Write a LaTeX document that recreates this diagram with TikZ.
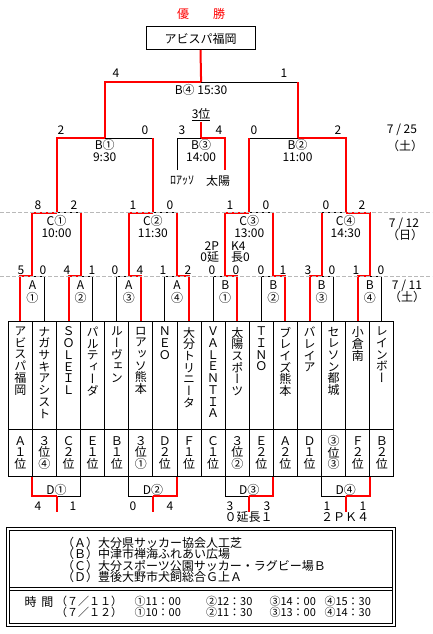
\documentclass[tikz,border=0pt]{standalone}
\usepackage{fontspec}
\setmainfont{Noto Sans CJK JP}
\newfontfamily\vjp[RawFeature=+vert]{Noto Sans CJK JP}
\newcommand\fsz{\fontsize{12}{12}\selectfont}
\begin{document}
\begin{tikzpicture}[x=1pt,y=-1pt,
  every node/.style={inner sep=0pt, outer sep=0pt, font=\fsz},
  win/.style={draw=red, line width=2pt},
  lose/.style={draw=black, line width=1pt},
  cellbox/.style={draw=black, line width=1pt, minimum width=24.1pt},
  vname/.style={anchor=north, align=center, font=\vjp\fontsize{12}{11.7}\selectfont},
  rname/.style={align=center, font=\fontsize{12}{11.5}\selectfont},
  trow/.style={anchor=west, font=\fontsize{11}{11}\selectfont},
  guide/.style={draw=gray!55, line width=0.8pt, dash pattern=on 4pt off 2pt},
  frame/.style={draw=black, line width=1pt}
]
\fill[white] (0,0) rectangle (432,634);
\useasboundingbox (0,0) rectangle (432,634);

% ---------- table of teams ----------
\foreach \i in {0,...,15}{
  \node[cellbox, minimum height=108pt] (n\i) at ({20.35+24.1*\i},375) {};
  \node[cellbox, minimum height=47.7pt] (r\i) at ({20.35+24.1*\i},452.85) {};
}
\node[vname] (t0) at ([yshift=-6pt]n0.north) {ア\\ビ\\ス\\パ\\福\\岡};
\node[vname] (t1) at ([yshift=-6pt]n1.north) {ナ\\ガ\\サ\\キ\\ア\\シ\\ス\\ト};
\node[vname] (t2) at ([yshift=-6pt]n2.north) {Ｓ\\Ｏ\\Ｌ\\Ｅ\\Ｉ\\Ｌ};
\node[vname] (t3n) at ([yshift=-6pt]n3.north) {パ\\ル\\テ\\ィ\\ー\\ダ};
\node[vname] (t4) at ([yshift=-6pt]n4.north) {ル\\ー\\ヴ\\ェ\\ン};
\node[vname] (t5) at ([yshift=-6pt]n5.north) {ロ\\ア\\ッ\\ソ\\熊\\本};
\node[vname] (t6) at ([yshift=-6pt]n6.north) {Ｎ\\Ｅ\\Ｏ};
\node[vname] (t7) at ([yshift=-6pt]n7.north) {大\\分\\ト\\リ\\ニ\\ー\\タ};
\node[vname] (t8) at ([yshift=-6pt]n8.north) {Ｖ\\Ａ\\Ｌ\\Ｅ\\Ｎ\\Ｔ\\Ｉ\\Ａ};
\node[vname] (t9) at ([yshift=-6pt]n9.north) {太\\陽\\ス\\ポ\\ー\\ツ};
\node[vname] (t10) at ([yshift=-6pt]n10.north) {Ｔ\\Ｉ\\Ｎ\\Ｏ};
\node[vname] (t11) at ([yshift=-6pt]n11.north) {ブ\\レ\\イ\\ズ\\熊\\本};
\node[vname] (t12) at ([yshift=-6pt]n12.north) {バ\\レ\\イ\\ア};
\node[vname] (t13) at ([yshift=-6pt]n13.north) {セ\\レ\\ソ\\ン\\都\\城};
\node[vname] (t14) at ([yshift=-6pt]n14.north) {小\\倉\\南};
\node[vname] (t15) at ([yshift=-6pt]n15.north) {レ\\イ\\ン\\ボ\\ー};

\node[rname] (k0) at (r0) {Ａ\\１\\位};
\node[rname] (k1) at (r1) {３\\位\\④};
\node[rname] (k2) at (r2) {Ｃ\\２\\位};
\node[rname] (k3) at (r3) {Ｅ\\１\\位};
\node[rname] (k4) at (r4) {Ｂ\\１\\位};
\node[rname] (k5) at (r5) {３\\位\\①};
\node[rname] (k6) at (r6) {Ｄ\\２\\位};
\node[rname] (k7) at (r7) {Ｆ\\１\\位};
\node[rname] (k8) at (r8) {Ｃ\\１\\位};
\node[rname] (k9) at (r9) {３\\位\\②};
\node[rname] (k10) at (r10) {Ｅ\\２\\位};
\node[rname] (k11) at (r11) {Ａ\\２\\位};
\node[rname] (k12) at (r12) {Ｄ\\１\\位};
\node[rname] (k13) at (r13) {③\\位\\③};
\node[rname] (k14) at (r14) {Ｆ\\２\\位};
\node[rname] (k15) at (r15) {Ｂ\\２\\位};

% ---------- top nodes ----------
\node[text=red] (yusho) at (201,14) {優　　勝};
\node[draw, line width=1pt, minimum width=109pt, minimum height=23pt] (champ) at (200.5,38.5) {アビスパ福岡};
\node (third) at (201.1,113.7) {3位};
\node (ro) at (182,181) {ﾛｱｯｿ};
\node (ta) at (218,181) {太陽};

% ---------- coordinates ----------
\coordinate (a1) at (32.4,276.3);
\coordinate (a2) at (80.6,276.3);
\coordinate (a3) at (128.8,276.3);
\coordinate (a4) at (177,276.3);
\coordinate (a5) at (225.2,276.3);
\coordinate (a6) at (273.4,276.3);
\coordinate (a7) at (321.6,276.3);
\coordinate (a8) at (369.8,276.3);
\coordinate (c1) at (56.5,212.7);
\coordinate (c2) at (152.9,212.7);
\coordinate (c3) at (249.3,212.7);
\coordinate (c4) at (345.7,212.7);
\coordinate (s1) at (104.7,138);
\coordinate (s2) at (297.5,138);
\coordinate (f) at (201.1,82);
\coordinate (q3) at (201.1,138);
\coordinate (l3a) at (177,170);
\coordinate (l3b) at (225.2,170);
\coordinate (d1) at (56.5,496);
\coordinate (d2) at (152.9,496);
\coordinate (d3) at (249.3,496);
\coordinate (d4) at (345.7,496);
\coordinate (e1) at (56.5,511.7);
\coordinate (e2) at (152.9,511.7);
\coordinate (e3) at (249.3,511.7);
\coordinate (e4) at (345.7,511.7);

% ---------- first round (A / B boxes) ----------
\draw[lose] (a1) -| (n1.north);  \draw[win] (n0.north) |- (a1);
\draw[lose] (a2) -| (n3.north);  \draw[win] (n2.north) |- (a2);
\draw[lose] (n4.north) |- (a3);  \draw[win] (a3) -| (n5.north);
\draw[lose] (n6.north) |- (a4);  \draw[win] (a4) -| (n7.north);
\draw[lose] (n8.north) |- (a5);  \draw[win] (a5) -| (n9.north);
\draw[lose] (n10.north) |- (a6); \draw[win] (a6) -| (n11.north);
\draw[lose] (a7) -| (n13.north); \draw[win] (n12.north) |- (a7);
\draw[lose] (a8) -| (n15.north); \draw[win] (n14.north) |- (a8);

% ---------- C round ----------
\draw[lose] (a2|-c1) -- (c1); \draw[win] (a2) -- (a2|-c1); \draw[win] (a1) |- (c1);
\draw[lose] (a4|-c2) -- (c2); \draw[win] (a4) -- (a4|-c2); \draw[win] (a3) |- (c2);
\draw[lose] (a6|-c3) -- (c3); \draw[win] (a6) -- (a6|-c3); \draw[win] (a5) |- (c3);
\draw[lose] (a7|-c4) -- (c4); \draw[win] (a7) -- (a7|-c4); \draw[win] (a8) |- (c4);

% ---------- semi finals ----------
\draw[lose] (c2|-s1) -- (s1); \draw[win] (c2) -- (c2|-s1); \draw[win] (c1) |- (s1);
\draw[lose] (c3|-s2) -- (s2); \draw[win] (c3) -- (c3|-s2); \draw[win] (c4) |- (s2);

% ---------- final ----------
\draw[lose] (s2|-f) -- (f); \draw[win] (s2) -- (s2|-f); \draw[win] (s1) |- (f);
\draw[win] (f) -- (champ.south);

% ---------- 3rd place ----------
\draw[lose] (l3a) |- (q3); \draw[win] (l3b) |- (q3);
\draw[win] (q3) -- ([yshift=-2.8pt]third.south);
\draw[line width=0.8pt] ([yshift=-0.8pt]third.south west) -- ([yshift=-0.8pt]third.south east);

% ---------- D round (below) ----------
\draw[lose] (d1) -| (r2.south east);  \draw[win] (r0.south east) |- (d1); \draw[win] (d1) -- (e1);
\draw[lose] (r4.south east) |- (d2);  \draw[win] (d2) -| (r6.south east); \draw[win] (d2) -- (e2);
\draw[lose] (r8.south east) |- (d3);  \draw[win] (d3) -| (r10.south east); \draw[win] (d3) -- (e3);
\draw[lose] (r12.south east) |- (d4); \draw[win] (d4) -| (r14.south east); \draw[win] (d4) -- (e4);

% ---------- guide lines ----------
\draw[guide] (0,212.4) -- (432,212.4);
\draw[guide] (0,276.3) -- (432,276.3);

% ---------- scores and labels ----------
\node (sc1) at (116,73) {4};
\node (sc2) at (284,73) {1};
\node (lf) at (201.1,90) {B④ 15:30};

\node (sc3) at (61,130) {2};
\node (sc4) at (145,130) {0};
\node (sc5) at (182,130) {3};
\node (sc6) at (219,130) {4};
\node (sc7) at (254,130) {0};
\node (sc8) at (338,130) {2};
\node (lb1) at (104.7,144.5) {B①};
\node (lb1t) at (104.7,157.5) {9:30};
\node (lb3) at (201.1,144.5) {B③};
\node (lb3t) at (201.1,157.5) {14:00};
\node (lb2) at (297.5,144.5) {B②};
\node (lb2t) at (297.5,157.5) {11:00};
\node (dt25) at (402,130) {7 / 25};
\node (dw25) at (405,146) {（土）};

\node (sc9) at (38,205) {8};
\node (sc10) at (74,205) {2};
\node (sc11) at (133,205) {1};
\node (sc12) at (170,205) {0};
\node (sc13) at (230,205) {1};
\node (sc14) at (266,205) {0};
\node (sc15) at (326,205) {0};
\node (sc16) at (362,205) {2};
\node (lc1) at (56.5,221) {C①};
\node (lc1t) at (56.5,233.5) {10:00};
\node (lc2) at (152.9,221) {C②};
\node (lc2t) at (152.9,233.5) {11:30};
\node (lc3) at (249.3,221) {C③};
\node (lc3t) at (249.3,233.5) {13:00};
\node (lc4) at (345.7,221) {C④};
\node (lc4t) at (345.7,233.5) {14:30};
\node (dt12) at (404,224) {7 / 12};
\node (dw12) at (405,235) {（日）};
\node[anchor=east] (pk1) at (219,246) {2P};
\node[anchor=west] (pk2) at (231,246) {K4};
\node[anchor=east] (ex1) at (219,257) {0延};
\node[anchor=west] (ex2) at (231,257) {長0};

\foreach \x/\s [count=\j] in {21/5,43/0,67/4,92/1,115/0,140/4,163/1,188/2,212/0,236/0,261/0,283/1,308/3,332/0,356/1,381/0}
  \node (sa\j) at (\x,270) {\s};
\foreach \x/\g/\m [count=\j] in {32.4/A/①,80.6/A/②,128.8/A/③,177/A/④,225.2/B/①,273.4/B/②,321.6/B/③,369.8/B/④}{
  \node (bg\j) at (\x,285) {\g};
  \node (bm\j) at (\x,298) {\m};
}
\node (dt11) at (407,286) {7 / 11};
\node (dw11) at (407,297) {（土）};

\node (ld1) at (56.5,490) {D①};
\node (ld2) at (152.9,490) {D②};
\node (ld3) at (249.3,490) {D③};
\node (ld4) at (345.7,490) {D④};
\foreach \x/\s [count=\j] in {38/4,73/1,133/0,170/4,230/3,267/3,327/1,363/1}
  \node (sd\j) at (\x,506) {\s};
\node (xd3) at (248.5,517) {０延長１};
\node (xd4) at (345,517) {２ＰＫ４};

% ---------- legend ----------
\draw[frame] (6,527.3) rectangle (395.7,626.7);
\draw[frame] (9,530.7) rectangle (392.3,623.7);
\draw[frame] (9,587.3) -- (392.3,587.3);
\draw[frame] (9,590.3) -- (392.3,590.3);
\node[anchor=west] (vA) at (62,543) {（Ａ）大分県サッカー協会人工芝};
\node[anchor=west] (vB) at (62,554.3) {（Ｂ）中津市禅海ふれあい広場};
\node[anchor=west] (vC) at (62,565.5) {（Ｃ）大分スポーツ公園サッカー・ラグビー場Ｂ};
\node[anchor=west] (vD) at (62,576.7) {（Ｄ）豊後大野市犬飼総合Ｇ上Ａ};
\node[trow, font=\fsz] (tm) at (24.5,601.5) {時\hspace{5pt}間};
\node[trow] (dd1) at (56,601.5) {（７／１１）};
\node[trow] (dd2) at (56,612.6) {（７／１２）};
\foreach \x/\a/\b [count=\j] in {134.5/①11：00/①10：00,206/②12：30/②11：30,269.5/③14：00/③13：00,324.5/④15：30/④14：30}{
  \node[trow] (ta\j) at (\x,601.5) {\a};
  \node[trow] (tb\j) at (\x,612.6) {\b};
}
\end{tikzpicture}
\end{document}
